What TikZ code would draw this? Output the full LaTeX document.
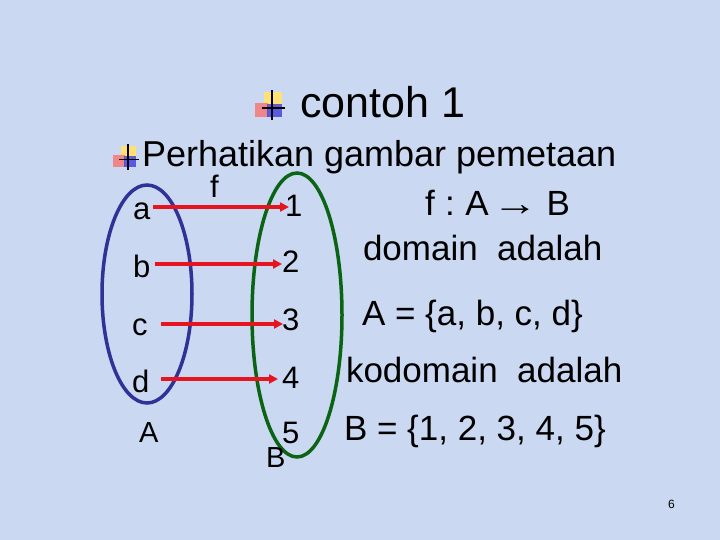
\documentclass[tikz,border=0pt]{standalone}
\usepackage{fontspec}
\setmainfont{Liberation Sans}
\usetikzlibrary{arrows.meta}
\definecolor{bgblue}{RGB}{202,216,242}
\definecolor{setblue}{RGB}{50,50,150}
\definecolor{setgreen}{RGB}{10,100,20}
\definecolor{arrred}{RGB}{230,20,30}
\definecolor{bulyellow}{RGB}{255,225,120}
\definecolor{bulred}{RGB}{245,120,120}
\definecolor{bulblue}{RGB}{60,60,220}
\tikzset{
  txt/.style={anchor=base west, inner sep=0pt, outer sep=0pt},
  elem/.style={txt, font=\fontsize{31}{31}\selectfont},
  rtxt/.style={txt, font=\fontsize{35}{35}\selectfont},
  maparrow/.style={draw=arrred, line width=3.5pt, -{Triangle[length=9pt,width=9pt]}},
  setring/.style={line width=3.5pt},
  pics/bullet/.style={code={
    \fill[bulyellow] (6,0) rectangle (24,15);
    \fill[bulred, opacity=0.85] (-3,11) rectangle (10,25);
    \fill[bulblue, opacity=0.8] (9,12) rectangle (24,25);
    \draw[black, line width=1.6pt] (14,-2) -- (14,28);
    \draw[black, line width=1.6pt] (4,16) -- (27,16);
  }}
}
\begin{document}
\begin{tikzpicture}[x=1pt,y=-1pt]
\useasboundingbox (0,0) rectangle (720,540);
\fill[bgblue] (0,0) rectangle (720,540);

% title
\pic at (258,92) {bullet};
\node[txt, font=\fontsize{43}{43}\selectfont] (title) at (300,118) {contoh 1};

% heading
\pic[scale=0.85] at (116,146) {bullet};
\node[txt, font=\fontsize{36}{36}\selectfont] (head) at (142,167) {Perhatikan gambar pemetaan};

% sets
\draw[setring, setblue] (147,294) ellipse [x radius=45, y radius=109];
\draw[setring, setgreen] (297,315) ellipse [x radius=45, y radius=142];

% elements of A
\node[elem] (a) at (133,220) {a};
\node[elem] (b) at (133,277) {b};
\node[elem] (c) at (132,335) {c};
\node[elem] (d) at (132,392) {d};
\node[elem, font=\fontsize{29}{29}\selectfont] (A) at (139,442) {A};

% elements of B
\node[elem] (n1) at (285,217) {1};
\node[elem] (n2) at (282,272) {2};
\node[elem] (n3) at (282,330) {3};
\node[elem] (n4) at (282,388) {4};
\node[elem] (n5) at (282,443) {5};
\node[elem, font=\fontsize{29}{29}\selectfont] (B) at (266,467) {B};

\node[elem] (f) at (210,197) {f};

% arrows
\coordinate (sa) at (153,207); \coordinate (ea) at (289,207);
\coordinate (sb) at (155,264); \coordinate (eb) at (282,264);
\coordinate (sc) at (161,324); \coordinate (ec) at (283,324);
\coordinate (sd) at (161,379); \coordinate (ed) at (278,379);
\draw[maparrow] (sa) -- (ea);
\draw[maparrow] (sb) -- (eb);
\draw[maparrow] (sc) -- (ec);
\draw[maparrow] (sd) -- (ed);

% right-hand text
\node[rtxt] (fmap) at (425,215) {f\hspace{0.3em}:\hspace{0.3em}A\hspace{0.1em}\scalebox{1.3}[1]{→}\hspace{0.25em}B};
\node[rtxt] (dom) at (363,260) {domain\ \ adalah};
\node[rtxt] (domset) at (362,325) {A = \{a, b, c, d\}};
\node[rtxt] (kod) at (346,382) {kodomain\ \ adalah};
\node[rtxt] (kodset) at (344,440) {B = \{1, 2, 3, 4, 5\}};

\node[txt, font=\fontsize{12}{12}\selectfont] (page) at (668,508) {6};
\end{tikzpicture}
\end{document}
